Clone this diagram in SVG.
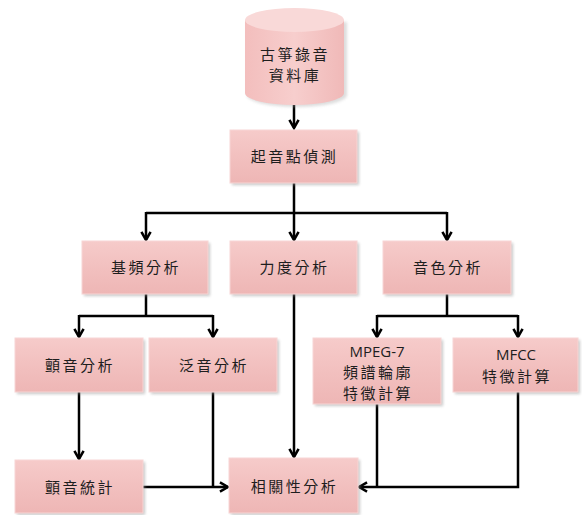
<svg xmlns="http://www.w3.org/2000/svg" width="582" height="515" viewBox="0 0 582 515">
<style>
.box{fill:url(#pink);stroke:#f7d6d5;stroke-width:1}
.sh{fill:#9a9a9a;opacity:0.55;filter:url(#blur)}
.t{font-family:"Noto Sans CJK TC","Noto Sans CJK SC",sans-serif;font-size:15px;fill:#1e1e1e;text-anchor:middle;letter-spacing:2.5px}
.e{font-family:"Open Sans","Liberation Sans",sans-serif;font-size:15px;fill:#1e1e1e;text-anchor:middle}
.c{fill:none;stroke:#000;stroke-width:2.5}
.a{marker-end:url(#arr)}
</style>
<defs>
<linearGradient id="pink" x1="0" y1="0" x2="0" y2="1">
<stop offset="0" stop-color="#f6cbca"/>
<stop offset="0.5" stop-color="#f2c0bf"/>
<stop offset="1" stop-color="#eeb6b5"/>
</linearGradient>
<linearGradient id="cyl" x1="0" y1="0" x2="1" y2="0">
<stop offset="0" stop-color="#f3bebd"/>
<stop offset="0.5" stop-color="#f7cecd"/>
<stop offset="1" stop-color="#f0b9b8"/>
</linearGradient>
<filter id="blur" x="-10%" y="-10%" width="120%" height="130%"><feGaussianBlur stdDeviation="1.5"/></filter>
<marker id="arr" viewBox="0 0 10 10" refX="8" refY="5" markerWidth="4.6" markerHeight="4.6" orient="auto" markerUnits="strokeWidth">
<path d="M1,1 L8,5 L1,9" fill="none" stroke="#000" stroke-width="2.2"/>
</marker>
</defs>
<rect width="582" height="515" fill="#fff"/>

<g id="connectors">
<path class="c a" d="M294,105 V128"/>
<path class="c" d="M294,183 V213 M146,213 H447"/>
<path class="c a" d="M146,212 V240"/>
<path class="c a" d="M294,212 V240"/>
<path class="c a" d="M447,212 V240"/>
<path class="c" d="M146,294 V316 M79,316 H213"/>
<path class="c a" d="M79,315 V337"/>
<path class="c a" d="M213,315 V337"/>
<path class="c" d="M447,294 V316 M377,316 H518"/>
<path class="c a" d="M377,315 V337"/>
<path class="c a" d="M518,315 V337"/>
<path class="c a" d="M294,294 V457"/>
<path class="c a" d="M79,392 V459"/>
<path class="c a" d="M143,487 H228"/>
<path class="c" d="M213,392 V488"/>
<path class="c" d="M377,404 V488"/>
<path class="c a" d="M518,392 V487 H359"/>
</g>

<g id="db">
<path d="M247,22 V95 A50,12 0 0 0 347,95 V22 Z" fill="#aaa" opacity="0.4" filter="url(#blur)"/>
<path d="M245,20 V93 A49.5,12 0 0 0 344,93 V20 Z" fill="url(#cyl)"/>
<ellipse cx="294.5" cy="20" rx="49.5" ry="12" fill="#f9d9d8"/>
<text class="t" x="295" y="60">古箏錄音</text>
<text class="t" x="295" y="81">資料庫</text>
</g>

<g id="onset">
<rect class="sh" x="232" y="132" width="127" height="53"/>
<rect class="box" x="230" y="130" width="127" height="53"/>
<text class="t" x="294.5" y="162">起音點偵測</text>
</g>

<g id="pitch">
<rect class="sh" x="84" y="243" width="126" height="53"/>
<rect class="box" x="82" y="241" width="126" height="53"/>
<text class="t" x="146" y="273">基頻分析</text>
</g>

<g id="dynamics">
<rect class="sh" x="232" y="243" width="127" height="53"/>
<rect class="box" x="230" y="241" width="127" height="53"/>
<text class="t" x="294.5" y="273">力度分析</text>
</g>

<g id="timbre">
<rect class="sh" x="385" y="243" width="128" height="53"/>
<rect class="box" x="383" y="241" width="128" height="53"/>
<text class="t" x="448" y="273">音色分析</text>
</g>

<g id="vibrato">
<rect class="sh" x="17" y="340" width="128" height="54"/>
<rect class="box" x="15" y="338" width="128" height="54"/>
<text class="t" x="80" y="371">顫音分析</text>
</g>

<g id="overtone">
<rect class="sh" x="151" y="340" width="128" height="54"/>
<rect class="box" x="149" y="338" width="128" height="54"/>
<text class="t" x="214" y="371">泛音分析</text>
</g>

<g id="mpeg7">
<rect class="sh" x="315" y="340" width="128" height="66"/>
<rect class="box" x="313" y="338" width="128" height="66"/>
<text class="e" x="377" y="357">MPEG-7</text>
<text class="t" x="378" y="378">頻譜輪廓</text>
<text class="t" x="378" y="399">特徵計算</text>
</g>

<g id="mfcc">
<rect class="sh" x="455" y="340" width="125" height="54"/>
<rect class="box" x="453" y="338" width="125" height="54"/>
<text class="e" x="516" y="360">MFCC</text>
<text class="t" x="517" y="382">特徵計算</text>
</g>

<g id="vibstat">
<rect class="sh" x="17" y="462" width="128" height="53"/>
<rect class="box" x="15" y="460" width="128" height="53"/>
<text class="t" x="80" y="493">顫音統計</text>
</g>

<g id="corr">
<rect class="sh" x="231" y="460" width="129" height="55"/>
<rect class="box" x="229" y="458" width="129" height="55"/>
<text class="t" x="294.5" y="492">相關性分析</text>
</g>
</svg>
